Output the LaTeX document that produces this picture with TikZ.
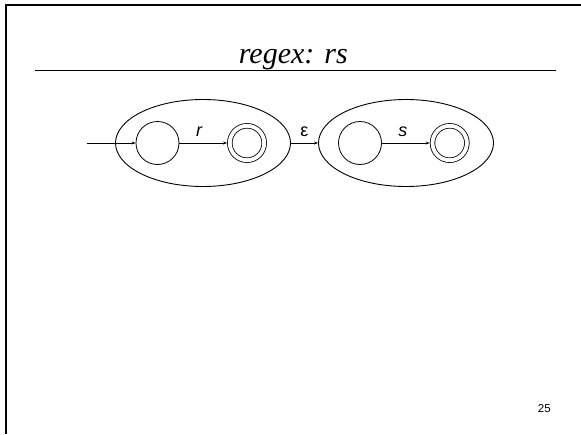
\documentclass[tikz,border=0pt]{standalone}
\usepackage{fontspec}
\setmainfont{Liberation Serif}
\setsansfont{Liberation Sans}
\usepackage{tikz}
\usetikzlibrary{shapes,arrows.meta,positioning,calc}

\begin{document}
\begin{tikzpicture}[
    x=1pt, y=-1pt,
    state/.style={circle, draw, line width=0.8pt, minimum size=43pt, inner sep=0pt},
    accept/.style={circle, draw, line width=0.8pt, double, double distance=3.8pt, minimum size=34.4pt, inner sep=0pt, outer sep=2.8pt},
    part/.style={ellipse, draw, line width=0.9pt, minimum width=175pt, minimum height=87pt, inner sep=0pt},
    arrow/.style={-{Stealth[length=4pt,width=3pt]}, line width=0.7pt},
    lbl/.style={font=\sffamily\itshape\fontsize{18}{18}\selectfont, inner sep=0pt}
]
    \useasboundingbox (0,0) rectangle (581,434);
    % slide frame and title
    \draw[line width=2pt] (6,434) -- (6,5) -- (581,5);
    \node[anchor=base, font=\itshape\fontsize{30}{30}\selectfont] (title) at (293.3,63) {regex: rs};
    \draw[line width=1.2pt] (35,70.5) -- (556,70.5);

    % the two machines
    \node[part] (ellr) at (203,143) {};
    \node[part] (ells) at (406,143) {};
    \node[state] (q0) at (157.5,143) {};
    \node[accept] (f0) at (247,143) {};
    \node[state] (q1) at (360,143) {};
    \node[accept] (f1) at (449.7,143) {};
    \coordinate (start) at (87,143);

    \draw[arrow] (start) -- (q0);
    \draw[arrow] (q0) -- node[lbl, above=6pt, xshift=-4pt] {r} (f0);
    \draw[arrow] (ellr) -- node[lbl, above=6pt, font=\sffamily\fontsize{18}{18}\selectfont] {ε} (ells);
    \draw[arrow] (q1) -- node[lbl, above=6pt, xshift=-3pt] {s} (f1);

    \node[anchor=base, font=\sffamily\fontsize{11.5}{11.5}\selectfont] (page) at (544.3,412.5) {25};
\end{tikzpicture}
\end{document}
